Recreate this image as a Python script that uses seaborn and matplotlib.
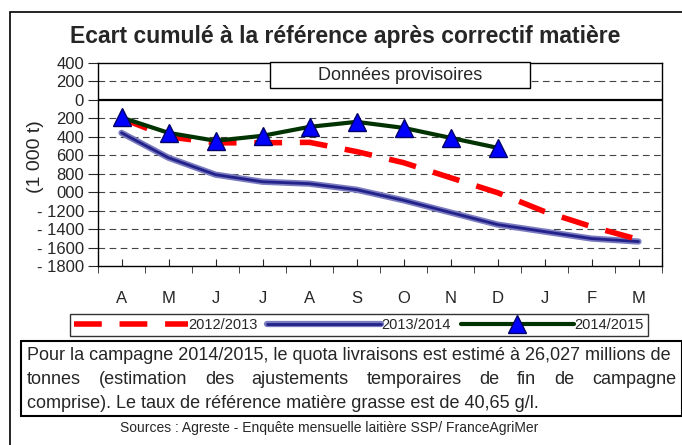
import numpy as np
import pandas as pd
import matplotlib
matplotlib.use('Agg')
import matplotlib.pyplot as plt
import matplotlib.patheffects as pe
from matplotlib.patches import Rectangle
import seaborn as sns

months = ['A', 'M', 'J', 'J', 'A', 'S', 'O', 'N', 'D', 'J', 'F', 'M']
s_2012 = [-200, -400, -465, -465, -460, -560, -680, -843, -1005, -1210, -1373, -1513]
s_2013 = [-357, -627, -810, -887, -908, -973, -1088, -1220, -1351, -1427, -1503, -1535]
s_2014 = [-190, -357, -443, -389, -292, -238, -303, -411, -519]
y_ticks = [400, 200, 0, -200, -400, -600, -800, -1000, -1200, -1400, -1600, -1800]
y_ticklabels = ['400', '200', '0', '200', '400', '600', '800', '000',
                '- 1200', '- 1400', '- 1600', '- 1800']

df12 = pd.DataFrame({'pos': range(len(s_2012)), 'val': s_2012})
df13 = pd.DataFrame({'pos': range(len(s_2013)), 'val': s_2013})
df14 = pd.DataFrame({'pos': range(len(s_2014)), 'val': s_2014})

sns.set_style('white')
plt.rcParams['font.family'] = ['Liberation Sans', 'DejaVu Sans']

fig = plt.figure(figsize=(6.82, 4.45), dpi=100)
ax = fig.add_axes([98 / 682, 1 - 266 / 445, 564 / 682, 203 / 445])

# grid
for v in y_ticks:
    if v == 0:
        ax.axhline(v, color='black', lw=1.6, zorder=1)
    elif v not in (400, -1800):
        ax.axhline(v, color='#444444', lw=0.8, dashes=(6, 4), zorder=1)

sns.lineplot(data=df12, x='pos', y='val', ax=ax, color='#ff0000', lw=4,
             label='2012/2013', zorder=3)
ax.lines[-1].set_dashes((5, 3.2))
sns.lineplot(data=df13, x='pos', y='val', ax=ax, color='#22228a', lw=2,
             label='2013/2014', zorder=2)
ax.lines[-1].set_path_effects([pe.Stroke(linewidth=4.5, foreground='#7b7bc0'), pe.Normal()])
sns.lineplot(data=df14, x='pos', y='val', ax=ax, color='#003300', lw=3,
             marker='^', markersize=13, markerfacecolor='#0000ff',
             markeredgecolor='#000066', markeredgewidth=1,
             label='2014/2015', zorder=4)

ax.set_xlim(-0.5, 11.5)
ax.set_ylim(-1800, 400)
ax.set_xticks(range(len(months)))
ax.set_xticklabels(months, fontsize=12)
ax.set_xticks(np.arange(-0.5, 12, 1), minor=True)
ax.tick_params(axis='x', which='major', direction='in', length=5, pad=18, bottom=True)
ax.tick_params(axis='x', which='minor', direction='out', length=5, bottom=True)
ax.set_yticks(y_ticks)
ax.set_yticklabels(y_ticklabels, fontsize=12)
ax.tick_params(axis='y', direction='out', length=7, left=True, pad=3)
ax.set_xlabel('')
ax.set_ylabel('(1 000 t)', fontsize=14)
ax.yaxis.set_label_coords(-0.095, 0.54)
for s in ax.spines.values():
    s.set_color('black')
    s.set_linewidth(1)

# "Données provisoires" box
ax.add_patch(Rectangle((0.305, 0.877), 0.461, 0.128, transform=ax.transAxes,
                       facecolor='white', edgecolor='black', lw=1, zorder=6, clip_on=False))
ax.text(0.5355, 0.94, 'Données provisoires', transform=ax.transAxes, ha='center', va='center',
        fontsize=13, zorder=7)

fig.text(0.506, 1 - 37 / 445, 'Ecart cumulé à la référence après correctif matière',
         ha='center', va='center', fontsize=16.5, fontweight='bold')

leg = ax.legend(loc='center', bbox_to_anchor=(70 / 682, 1 - 338 / 445, 578 / 682, 26 / 445),
                bbox_transform=fig.transFigure, ncol=3, mode='expand', frameon=True,
                fancybox=False, edgecolor='black', fontsize=10.5, handlelength=7.8,
                handletextpad=0.0, columnspacing=1.0, borderaxespad=0, borderpad=0.3)
leg.get_frame().set_linewidth(1)

# note box and outer frame
fig.patches.append(Rectangle((21 / 682, 1 - 416 / 445), 661 / 682, 75 / 445,
                             transform=fig.transFigure, fill=False, edgecolor='black', lw=1.5))
fig.patches.append(Rectangle((10 / 682, -0.05), 0.99, 1 - 12 / 445 + 0.05,
                             transform=fig.transFigure, fill=False, edgecolor='black', lw=1.2))

line1 = 'Pour la campagne 2014/2015, le quota livraisons est estimé à 26,027 millions de'
line2 = 'tonnes (estimation des ajustements temporaires de fin de campagne'
line3 = 'comprise). Le taux de référence matière grasse est de 40,65 g/l.'
fs_note = 13
fig.text(27 / 682, 1 - 356 / 445, line1, fontsize=fs_note, va='center', ha='left')
fig.text(27 / 682, 1 - 403 / 445, line3, fontsize=fs_note, va='center', ha='left')

# justified second line
words = line2.split()
texts = [fig.text(0, 1 - 380 / 445, w, fontsize=fs_note, va='center', ha='left') for w in words]
fig.canvas.draw()
r = fig.canvas.get_renderer()
widths = [t.get_window_extent(r).width for t in texts]
x0, x1 = 27, 676
gap = (x1 - x0 - sum(widths)) / (len(words) - 1)
x = x0
for t, w in zip(texts, widths):
    t.set_x(x / 682)
    x += w + gap

fig.text(329 / 682, 1 - 428 / 445, 'Sources : Agreste - Enquête mensuelle laitière SSP/ FranceAgriMer',
         ha='center', va='center', fontsize=10)

fig.savefig('out.png', dpi=100)
